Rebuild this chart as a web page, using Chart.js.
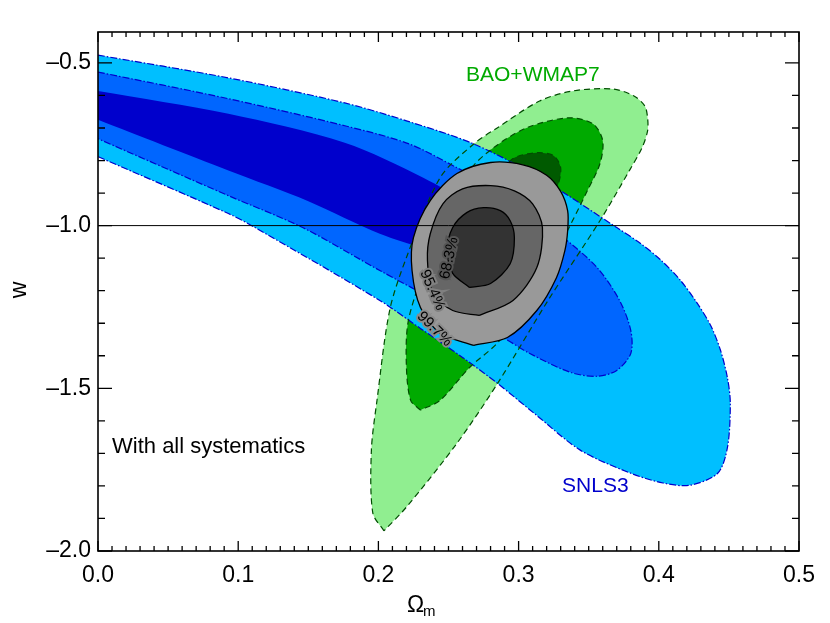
<!DOCTYPE html>
<html>
<head>
<meta charset="utf-8">
<script src="https://cdn.jsdelivr.net/npm/chart.js@4.4.0/dist/chart.umd.min.js"></script>
<style>
html, body { margin: 0; padding: 0; background: #fff; }
#wrap { position: relative; width: 830px; height: 623px; }
</style>
</head>
<body>
<div id="wrap"><canvas id="c"></canvas></div>
<script>
// contours in (Omega_m, w)

// SNLS3 (blue)
const snls997 = [[0, -0.476], [0.093, -0.546], [0.176, -0.623], [0.220, -0.678], [0.268, -0.749], [0.315, -0.853],
  [0.370, -1.006], [0.387, -1.055], [0.401, -1.104], [0.415, -1.166], [0.427, -1.236], [0.437, -1.307],
  [0.444, -1.383], [0.449, -1.469], [0.451, -1.546], [0.449, -1.681],
  [0.442, -1.761], [0.422, -1.798], [0.403, -1.791], [0.380, -1.761], [0.344, -1.690], [0.312, -1.580],
  [0.285, -1.485], [0.260, -1.405], [0.230, -1.316], [0.201, -1.230], [0.112, -1.006], [0.093, -0.963], [0, -0.788]];
const snls954 = [[0, -0.528], [0.093, -0.610], [0.176, -0.693], [0.222, -0.749], [0.256, -0.822], [0.290, -0.900],
  [0.332, -1.037], [0.356, -1.129], [0.372, -1.230], [0.380, -1.322], [0.380, -1.393], [0.370, -1.445],
  [0.356, -1.463], [0.337, -1.451], [0.308, -1.393], [0.289, -1.344], [0.245, -1.240], [0.201, -1.138],
  [0.146, -1.006], [0.093, -0.908], [0, -0.733]];
const snls683 = [[0, -0.586], [0.093, -0.656], [0.176, -0.745], [0.232, -0.853], [0.265, -0.940], [0.283, -1.040],
  [0.265, -1.080], [0.235, -1.070], [0.201, -1.025], [0.150, -0.925], [0.093, -0.831], [0, -0.675]];

// BAO+WMAP7 (green)
const bao997 = [[0.204, -1.938], [0.196, -1.883], [0.195, -1.690], [0.199, -1.537], [0.208, -1.261], [0.220, -1.098],
  [0.244, -0.853], [0.268, -0.749], [0.285, -0.699], [0.315, -0.617], [0.339, -0.586], [0.367, -0.580],
  [0.382, -0.601], [0.390, -0.632], [0.392, -0.669], [0.392, -0.709], [0.388, -0.761], [0.379, -0.831],
  [0.358, -0.985], [0.321, -1.230], [0.285, -1.485], [0.256, -1.669], [0.220, -1.865], [0.204, -1.938]];
const bao954 = [[0.230, -1.567], [0.223, -1.537], [0.220, -1.436], [0.221, -1.301], [0.230, -1.169], [0.248, -0.985],
  [0.265, -0.831], [0.282, -0.761], [0.306, -0.699], [0.335, -0.669], [0.353, -0.687], [0.360, -0.739],
  [0.358, -0.810], [0.349, -0.893], [0.333, -1.031], [0.308, -1.230], [0.285, -1.360], [0.265, -1.436],
  [0.244, -1.537], [0.230, -1.567]];
const bao683 = [[0.272, -1.230], [0.265, -1.199], [0.269, -1.077], [0.280, -0.923], [0.287, -0.847], [0.296, -0.794],
  [0.313, -0.776], [0.325, -0.785], [0.330, -0.822], [0.328, -0.877], [0.319, -0.969], [0.301, -1.092],
  [0.283, -1.199], [0.272, -1.230]];

// combined (gray)
const comb997 = [[0.268, -1.368], [0.244, -1.331], [0.230, -1.252], [0.224, -1.138], [0.225, -1.037], [0.237, -0.923],
  [0.256, -0.840], [0.280, -0.806], [0.303, -0.813], [0.320, -0.845], [0.330, -0.895], [0.335, -0.955],
  [0.335, -1.015], [0.333, -1.077], [0.327, -1.160], [0.313, -1.261], [0.292, -1.344], [0.268, -1.368]];
const comb954 = [[0.272, -1.276], [0.253, -1.261], [0.239, -1.209], [0.235, -1.107], [0.237, -1.025], [0.246, -0.933],
  [0.260, -0.887], [0.280, -0.877], [0.297, -0.893], [0.310, -0.933], [0.317, -1.006], [0.313, -1.129],
  [0.296, -1.230], [0.272, -1.276]];
const comb683 = [[0.265, -1.190], [0.253, -1.147], [0.249, -1.077], [0.253, -1.006], [0.263, -0.960], [0.275, -0.945],
  [0.287, -0.954], [0.294, -0.985], [0.297, -1.037], [0.294, -1.117], [0.280, -1.178], [0.265, -1.190]];

const wLine = [[0, -1.0], [0.5, -1.0]];

const xTicks = [0, 0.1, 0.2, 0.3, 0.4, 0.5];
const yTicks = [-2.0, -1.5, -1.0, -0.5];

const pts = arr => arr.map(p => ({ x: p[0], y: p[1] }));
const FONT = '"Liberation Sans", Arial, Helvetica, sans-serif';

// one filled contour; order: larger number = drawn lower
function area(data, fillCol, order, border) {
  return Object.assign({
    data: pts(data), showLine: true, fill: 'shape', backgroundColor: fillCol,
    borderColor: 'rgba(0,0,0,0)', borderWidth: 0, pointRadius: 0, tension: 0.3, order: order
  }, border || {});
}
function outline(data, col, dash, order) {
  return {
    data: pts(data), showLine: true, fill: false, borderColor: col, borderWidth: 1.2,
    borderDash: dash, pointRadius: 0, tension: 0.3, order: order
  };
}

const blueEdge = { borderColor: '#0000cc', borderWidth: 1.2, borderDash: [7, 2, 1.5, 2] };
const grayEdge = { borderColor: '#000', borderWidth: 1.3 };

// ticks on all four sides pointing inward, plus the frame
const frameTicks = {
  id: 'frameTicks',
  afterDraw(chart) {
    const { ctx, chartArea: a, scales: { x, y } } = chart;
    ctx.save();
    ctx.strokeStyle = '#000';
    ctx.lineWidth = 1.3;
    ctx.beginPath();
    for (let i = 0; i <= 50; i++) {
      const px = x.getPixelForValue(i / 100);
      const len = i % 10 === 0 ? 10 : 5;
      ctx.moveTo(px, a.bottom); ctx.lineTo(px, a.bottom - len);
      ctx.moveTo(px, a.top); ctx.lineTo(px, a.top + len);
    }
    for (let i = 5; i <= 20; i++) {
      const py = y.getPixelForValue(-i / 10);
      const len = i % 5 === 0 ? 14 : 7;
      ctx.moveTo(a.left, py); ctx.lineTo(a.left + len, py);
      ctx.moveTo(a.right, py); ctx.lineTo(a.right - len, py);
    }
    ctx.stroke();
    ctx.lineWidth = 1.6;
    ctx.strokeRect(a.left, a.top, a.right - a.left, a.bottom - a.top);

    // axis titles
    ctx.fillStyle = '#000';
    ctx.font = '23px ' + FONT;
    ctx.textAlign = 'left';
    ctx.textBaseline = 'alphabetic';
    ctx.fillText('\u03A9', 407, 612);
    ctx.font = '15px ' + FONT;
    ctx.fillText('m', 423, 616);
    ctx.translate(26, 290);
    ctx.rotate(-Math.PI / 2);
    ctx.font = '23px ' + FONT;
    ctx.textAlign = 'center';
    ctx.fillText('w', 0, 0);
    ctx.restore();
  }
};

// texts placed in data coordinates
const notes = {
  id: 'notes',
  afterDatasetsDraw(chart) {
    const { ctx, scales: { x, y } } = chart;
    const put = (t, vx, vy, col, size, align, rot, halo) => {
      ctx.save();
      ctx.translate(x.getPixelForValue(vx), y.getPixelForValue(vy));
      ctx.rotate((rot || 0) * Math.PI / 180);
      ctx.fillStyle = col;
      ctx.font = size + 'px ' + FONT;
      ctx.textAlign = align;
      ctx.textBaseline = 'middle';
      if (halo) {
        ctx.strokeStyle = halo;
        ctx.lineWidth = 4;
        ctx.strokeText(t, 0, 0);
      }
      ctx.fillText(t, 0, 0);
      ctx.restore();
    };
    put('BAO+WMAP7', 0.2625, -0.537, '#00aa00', 21, 'left');
    put('SNLS3', 0.331, -1.800, '#0000cc', 21, 'left');
    put('With all systematics', 0.010, -1.680, '#000', 22, 'left');
    put('68.3%', 0.2505, -1.100, '#000', 15, 'center', -78, '#555');
    put('95.4%', 0.2385, -1.198, '#000', 15, 'center', 66, '#808080');
    put('99.7%', 0.2400, -1.318, '#000', 15, 'center', 45, '#8a8a8a');
  }
};

const datasets = [
  area(bao997, '#90ee90', 100),
  area(bao954, '#00aa00', 99),
  area(bao683, '#005a00', 98),
  area(snls997, '#00bfff', 97, blueEdge),
  area(snls954, '#0066ff', 96, blueEdge),
  area(snls683, '#0000cc', 95),
  outline(bao997, '#004d00', [6, 4], 94),
  outline(bao954, '#004d00', [6, 4], 93),
  outline(bao683, '#004d00', [6, 4], 92),
  area(comb997, '#999999', 91, grayEdge),
  area(comb954, '#666666', 90, grayEdge),
  area(comb683, '#333333', 89, grayEdge),
  { data: pts(wLine), showLine: true, fill: false, borderColor: '#000', borderWidth: 1, pointRadius: 0, order: 1 }
];

const fmt = v => v.toFixed(1).replace('-', '\u2013');

new Chart(document.getElementById('c'), {
  type: 'scatter',
  data: { datasets: datasets },
  options: {
    responsive: true,
    maintainAspectRatio: false,
    animation: false,
    layout: { padding: { top: 32, right: 31, left: 0, bottom: 0 } },
    plugins: { legend: { display: false }, tooltip: { enabled: false } },
    scales: {
      x: {
        type: 'linear', min: 0, max: 0.5,
        afterFit(s) { s.height = 72; },
        afterBuildTicks(s) { s.ticks = xTicks.map(v => ({ value: v })); },
        grid: { display: false, drawTicks: false },
        border: { display: false },
        ticks: { padding: 11, color: '#000', font: { family: FONT, size: 23 }, callback: v => v.toFixed(1) }
      },
      y: {
        type: 'linear', min: -2.0, max: -0.405,
        afterFit(s) { s.width = 98; },
        afterBuildTicks(s) { s.ticks = yTicks.map(v => ({ value: v })); },
        grid: { display: false, drawTicks: false },
        border: { display: false },
        ticks: { padding: 7, color: '#000', font: { family: FONT, size: 23 }, callback: v => fmt(v) }
      }
    }
  },
  plugins: [frameTicks, notes]
});
</script>
</body>
</html>
